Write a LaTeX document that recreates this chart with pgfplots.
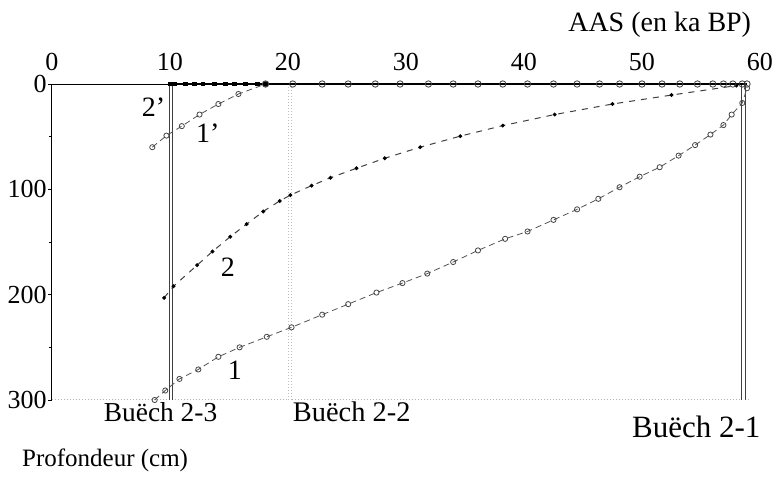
\documentclass[border=0pt]{standalone}
\usepackage{pgfplots}
\pgfplotsset{compat=1.18}
\usepackage{fontspec}
\setmainfont{Liberation Serif}
\begin{document}
\fontsize{12.5}{14}\selectfont
\begin{tikzpicture}
\useasboundingbox (-26pt,-40.5pt) rectangle (360pt,200pt);
\begin{axis}[
  at={(0,0)}, anchor=south west,
  scale only axis, width=354pt, height=158pt,
  xmin=0, xmax=60, ymin=0, ymax=300, y dir=reverse,
  separate axis lines, axis line style={draw=none},
  xtick={0,10,...,60}, ytick={0,100,200,300},
  minor ytick={50,150,250},
  xticklabel pos=upper, ytick pos=left, xtick style={draw=none},
  ytick style={black, line width=0.4pt},
  tick align=outside, major tick length=2pt, minor tick length=1.5pt,
  /pgf/number format/assume math mode=true,
  ticklabel style={font=\fontsize{13}{15}\selectfont},
  yticklabel style={inner sep=0.5pt},
  xticklabel style={inner sep=1pt, yshift=3.5pt},
  clip=false,
]
% axis lines
\draw[black, line width=0.5pt] (axis cs:0,0) -- (axis cs:0,300);
\draw[black, line width=0.5pt] (axis cs:0,0) -- (axis cs:10,0);
\draw[gray!60, densely dotted, line width=0.5pt] (axis cs:0,300) -- (axis cs:59,300);
% vertical section lines
\addplot[black!75, line width=0.5pt, double=white, double distance=1.1pt] coordinates {(10.1,0) (10.1,300)};
\addplot[gray!50, densely dotted, line width=0.5pt, double=white, double distance=1.1pt] coordinates {(20.2,0) (20.2,300)};
\addplot[black!75, line width=0.5pt, double=white, double distance=1.1pt] coordinates {(58.6,0) (58.6,300)};
% curve 1
\addplot[gray!65!black, densely dashed, line width=0.4pt, mark=o, mark size=1.3pt,
  mark options={solid, fill=white, draw=gray!55!black}] coordinates {
(8.7,300) (9.6,291) (10.8,280) (12.4,271) (14.1,259) (15.9,250) (18.2,240)
(20.3,231) (22.9,219) (25.1,209) (27.5,198) (29.7,189) (31.8,180) (34.0,169)
(36.1,158) (38.4,147) (40.3,140) (42.5,129) (44.5,119) (46.3,109) (48.1,98)
(49.8,88) (51.5,79) (53.1,68) (54.5,58) (55.8,48) (56.9,39) (57.6,29) (58.5,18) (58.9,4)};
% curve 1'
\addplot[gray!65!black, densely dashed, line width=0.4pt, mark=o, mark size=1.3pt,
  mark options={solid, fill=white, draw=gray!55!black}] coordinates {
(8.5,60) (9.7,49) (11.0,40) (12.5,29) (14.1,19) (15.8,9.5) (18.1,0)};
% curve 2
\addplot[gray!50!black, dashed, line width=0.5pt, mark=*, mark size=0.7pt,
  mark options={solid, black}] coordinates {
(9.5,203) (10.3,192) (12.3,172) (13.6,159) (15.1,145) (16.5,133) (17.9,121)
(19.3,111) (20.2,105.5) (22,96.5) (23.6,89) (25.8,80) (28.2,70.5) (31.2,60)
(34.6,49.5) (38.2,39.5) (42.6,29) (47.5,19) (52.5,10.5) (58,1.5)};
% curve 2' along the top
\addplot[black, line width=1.2pt, mark=square*, mark size=0.6pt] coordinates {
(10,0) (10.4,0) (11.3,0) (12.1,0) (12.8,0) (13.8,0) (14.7,0) (15.5,0) (16.4,0) (17.4,0) (18.1,0)};
% curve 1' continued along the top
\addplot[black, line width=1.2pt, mark=o, mark size=1.6pt,
  mark options={fill=white, draw=gray!50!black, line width=0.4pt}] coordinates {
(18.1,0) (20.4,0) (22.9,0) (25.1,0) (27.4,0) (29.5,0) (31.9,0) (34.0,0) (36.1,0)
(38.2,0) (40.3,0) (42.5,0) (44.5,0) (46.4,0) (48.1,0) (50.0,0) (51.7,0) (53.2,0)
(54.7,0) (56.0,0) (56.9,0) (57.7,0) (58.5,0) (58.9,0)};
% labels
\node[font=\fontsize{13.7}{15}\selectfont] at (axis cs:9.2,311.5) {Buëch 2-3};
\node[font=\fontsize{14.2}{15}\selectfont] at (axis cs:25.4,311.5) {Buëch 2-2};
\node[font=\fontsize{15.5}{17}\selectfont] at (axis cs:54.6,326) {Buëch 2-1};
\node[font=\fontsize{12.5}{14}\selectfont] at (axis cs:4.5,357) {Profondeur (cm)};
\node[font=\fontsize{14}{16}\selectfont] at (axis cs:51.5,-56) {AAS (en ka BP)};
\node[font=\fontsize{14}{16}\selectfont] at (axis cs:15.5,272) {1};
\node[font=\fontsize{14}{16}\selectfont] at (axis cs:14.9,174) {2};
\node[font=\fontsize{14}{16}\selectfont] at (axis cs:8.6,22) {2’};
\node[font=\fontsize{14}{16}\selectfont] at (axis cs:13.2,47) {1’};
\end{axis}
\end{tikzpicture}
\end{document}
